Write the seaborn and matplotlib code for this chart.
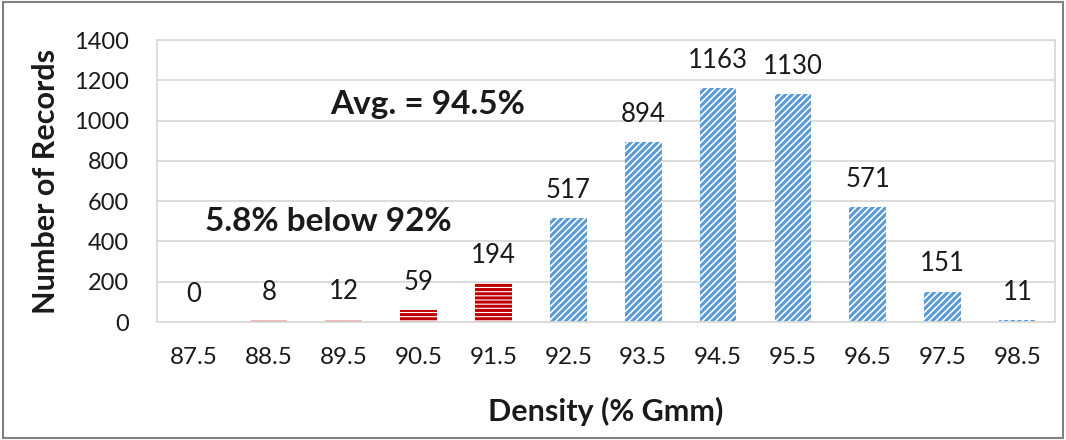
import matplotlib
matplotlib.use("Agg")
import matplotlib.pyplot as plt
import seaborn as sns
import pandas as pd
from matplotlib.patches import Rectangle

categories = ["87.5", "88.5", "89.5", "90.5", "91.5", "92.5", "93.5",
              "94.5", "95.5", "96.5", "97.5", "98.5"]
counts = [0, 8, 12, 59, 194, 517, 894, 1163, 1130, 571, 151, 11]
below_flags = [True, True, True, True, True, False, False, False, False, False, False, False]

sns.set_theme(style="white")
plt.rcParams['font.family'] = ['Lato', 'DejaVu Sans']
plt.rcParams['hatch.linewidth'] = 2.2

df = pd.DataFrame({"density": categories, "count": counts})

fig = plt.figure(figsize=(10.66, 4.4), dpi=100)
ax = fig.add_axes([0.147, 0.268, 0.8425, 0.641])

sns.barplot(data=df, x="density", y="count", color="white", width=0.49, ax=ax,
            order=categories)

red = "#C00000"
blue = "#5B9BD5"
for patch, flag in zip(ax.patches, below_flags):
    patch.set_facecolor("white")
    if flag:
        patch.set_hatch("----")
        patch.set_edgecolor(red)
    else:
        patch.set_hatch("/////")
        patch.set_edgecolor(blue)
    patch.set_linewidth(0)

for i, v in enumerate(counts):
    ax.annotate(str(v), (i, v), xytext=(0, 20), textcoords="offset points",
                ha="center", va="center", fontsize=18.5, color="#1a1a1a")

ax.set_ylim(0, 1400)
ax.set_yticks(range(0, 1401, 200))
ax.set_xlim(-0.5, len(categories) - 0.5)
ax.yaxis.grid(True, color="#D9D9D9", linewidth=1.3)
ax.set_axisbelow(True)
for s in ax.spines.values():
    s.set_visible(True)
    s.set_color("#D9D9D9")
    s.set_linewidth(1.3)
ax.tick_params(axis="both", length=0, colors="#1a1a1a")
ax.tick_params(axis="y", pad=20, labelsize=17)
ax.tick_params(axis="x", pad=18, labelsize=17.5)

ax.set_xlabel("Density (% Gmm)", fontsize=22, fontweight="bold", color="#1a1a1a", labelpad=21)
ax.set_ylabel("Number of Records", fontsize=22, fontweight="bold", color="#1a1a1a", labelpad=10)

ax.text(0.193, 0.77, "Avg. = 94.5%", transform=ax.transAxes, fontsize=24,
        fontweight="bold", ha="left", va="center", color="#1a1a1a")
ax.text(0.054, 0.355, "5.8% below 92%", transform=ax.transAxes, fontsize=24,
        fontweight="bold", ha="left", va="center", color="#1a1a1a")

fig.patches.append(Rectangle((0.003, 0.004), 0.994, 0.991, transform=fig.transFigure,
                             fill=False, edgecolor="#808080", linewidth=1.5))

fig.savefig("out.png", dpi=100)
